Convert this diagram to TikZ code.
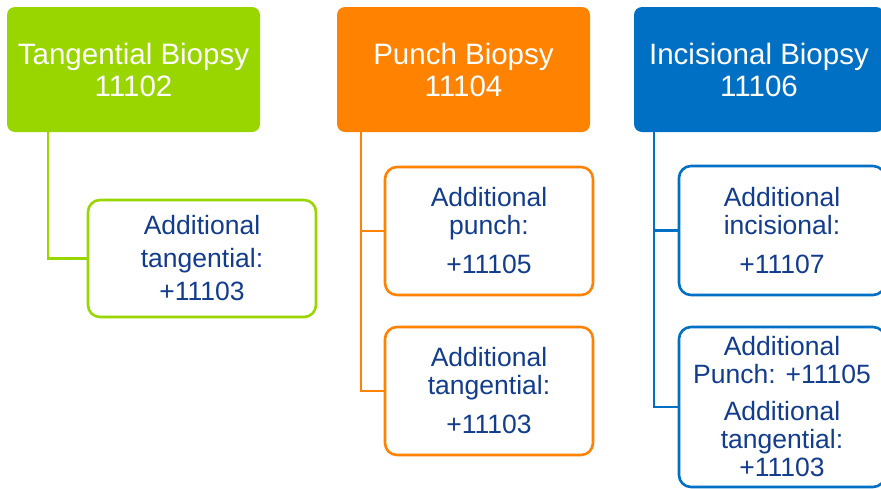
\documentclass[tikz,border=0pt]{standalone}
\usepackage{fontspec}
\setmainfont{Liberation Sans}
\usepackage{xcolor}
\usetikzlibrary{shapes,arrows,positioning,calc}

\definecolor{biogreen}{HTML}{99D600}
\definecolor{bioorange}{HTML}{FF8200}
\definecolor{bioblue}{HTML}{0070C4}
\definecolor{codeblue}{HTML}{123C8C}

\tikzset{
    headbox/.style={fill=#1, rounded corners=8pt, minimum width=253pt, minimum height=125pt,
        inner sep=0pt, align=center, text=white, font=\fontsize{29.5}{32}\selectfont},
    addbox/.style={draw=#1, line width=2.6pt, fill=white, rounded corners=12pt, inner sep=0pt,
        align=center, text=codeblue, font=\fontsize{26.5}{28}\selectfont},
    trunk/.style={draw=#1, line width=2.6pt}
}

\begin{document}
\begin{tikzpicture}[x=1pt, y=-1pt]
    \useasboundingbox (0,0) rectangle (881,488);

    % Tangential
    \node[headbox=biogreen] (tb) at (133.5,69.5) {Tangential Biopsy\\11102};
    \node[addbox=biogreen, minimum width=228pt, minimum height=117pt] (tbadd) at (202,258.5)
        {Additional\\[5pt]tangential:\\[5pt]+11103};
    \draw[trunk=biogreen] ([xshift=41pt]tb.south west) |- (tbadd.west);

    % Punch
    \node[headbox=bioorange] (pb) at (463.5,69.5) {Punch Biopsy\\11104};
    \node[addbox=bioorange, minimum width=208pt, minimum height=128pt] (pbadd1) at (489,231)
        {Additional\\punch:\\[11pt]+11105};
    \node[addbox=bioorange, minimum width=208pt, minimum height=128pt] (pbadd2) at (489,391)
        {Additional\\tangential:\\[11pt]+11103};
    \coordinate (ptrunk) at ([xshift=24pt]pb.south west);
    \draw[trunk=bioorange] (ptrunk) |- (pbadd2.west);
    \draw[trunk=bioorange] (pbadd1.west) -- (pbadd1.west -| ptrunk);

    % Incisional
    \node[headbox=bioblue, minimum width=250pt] (ib) at (759,69.5) {Incisional Biopsy\\11106};
    \node[addbox=bioblue, minimum width=206pt, minimum height=129pt] (ibadd1) at (782,230.5)
        {Additional\\incisional:\\[11pt]+11107};
    \node[addbox=bioblue, minimum width=206pt, minimum height=160pt] (ibadd2) at (782,407)
        {Additional\\Punch: +11105\\[9pt]Additional\\tangential:\\+11103};
    \coordinate (itrunk) at ([xshift=20pt]ib.south west);
    \draw[trunk=bioblue] (itrunk) |- (ibadd2.west);
    \draw[trunk=bioblue] (ibadd1.west) -- (ibadd1.west -| itrunk);
\end{tikzpicture}
\end{document}
